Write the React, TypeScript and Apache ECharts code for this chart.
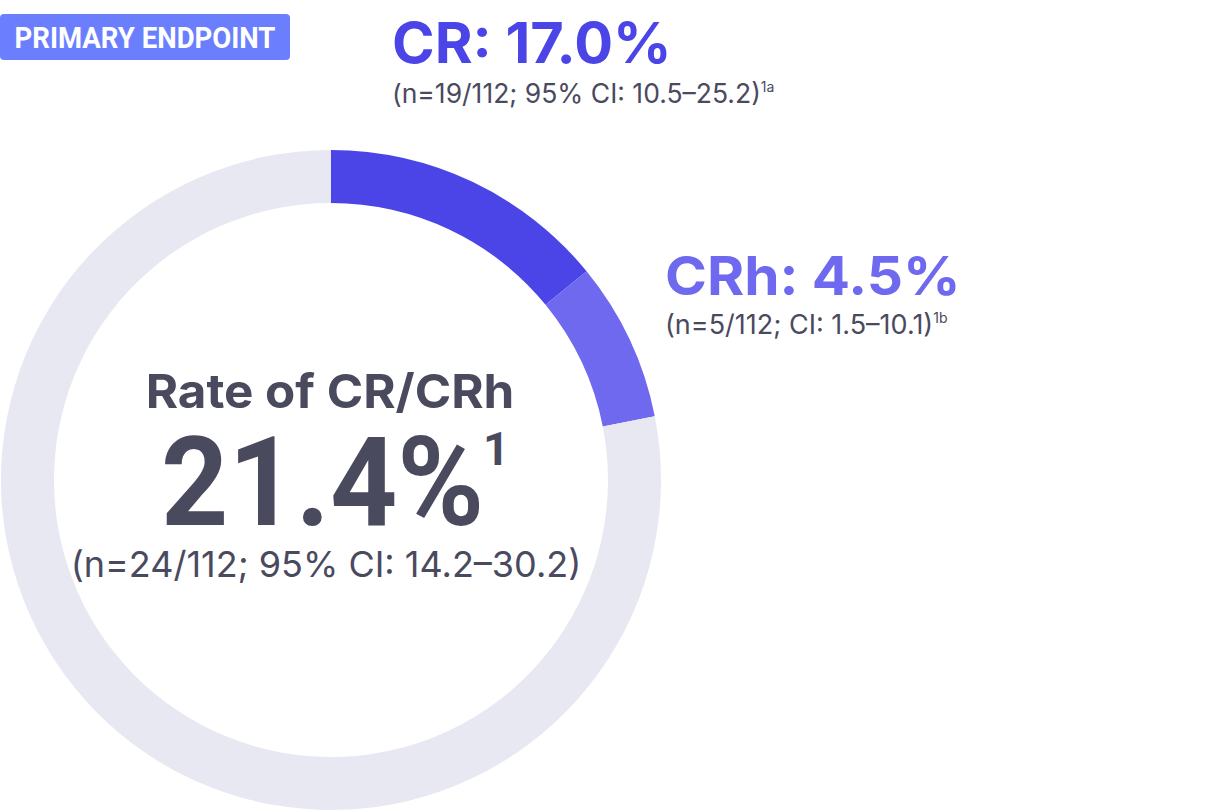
import React, { useEffect, useRef } from "react";
import * as echarts from "echarts";

// Arc shares as drawn in the reference (degrees / 360)
const arcNames = ["CR", "CRh", "Other"];
const arcValues = [14.1, 7.8, 78.1];
const arcColors = ["#4B45E8", "#6E69EE", "#E8E8F3"];

const badgeText = "PRIMARY ENDPOINT";
const crTitle = "CR: 17.0%";
const crDetail = "(n=19/112; 95% CI: 10.5\u201325.2)";
const crSup = "1a";
const crhTitle = "CRh: 4.5%";
const crhDetail = "(n=5/112; CI: 1.5\u201310.1)";
const crhSup = "1b";
const centerTitle = "Rate of CR/CRh";
const centerValue = "21.4%";
const centerSup = "1";
const centerDetail = "(n=24/112; 95% CI: 14.2\u201330.2)";

const DARK = "#4A4A5F";
const SANS = "Inter, 'Noto Sans', sans-serif";

export default function App() {
  const ref = useRef<HTMLDivElement>(null);
  useEffect(() => {
    document.body.style.margin = "0";
    const chart = echarts.init(ref.current!, null, { renderer: "svg" });
    const detail = (x: number, y: number, text: string, sup: string, size: number) => ({
      type: "text",
      x,
      y,
      style: {
        text: `{m|${text}}{s|${sup}}`,
        align: "left",
        verticalAlign: "middle",
        textAlign: "left",
        textVerticalAlign: "middle",
        rich: {
          m: { fontSize: size, fontFamily: SANS, fontWeight: 400, fill: DARK, color: DARK, lineHeight: 30, verticalAlign: "middle" },
          s: { fontSize: 14, fontFamily: SANS, fontWeight: 400, fill: DARK, color: DARK, lineHeight: 30, verticalAlign: "top", padding: [1, 0, 0, 0] },
        },
      },
    });
    chart.setOption({
      animation: false,
      series: [
        {
          type: "pie",
          center: [331, 480],
          radius: [277, 330],
          startAngle: 90,
          clockwise: true,
          silent: true,
          label: { show: false },
          labelLine: { show: false },
          emphasis: { disabled: true },
          data: arcNames.map((n, i) => ({ name: n, value: arcValues[i], itemStyle: { color: arcColors[i] } })),
        },
      ],
      graphic: [
        { type: "rect", shape: { x: 0, y: 14, width: 290, height: 46, r: 4 }, style: { fill: "#6B7FFE" } },
        {
          type: "text",
          x: 145,
          y: 38,
          scaleX: 0.95,
          style: { text: badgeText, font: "bold 29px Roboto, sans-serif", fill: "#FFFFFF", align: "center", verticalAlign: "middle", textAlign: "center", textVerticalAlign: "middle" },
        },
        {
          type: "text",
          x: 392,
          y: 43,
          scaleX: 1.03,
          style: { text: crTitle, font: `bold 56px ${SANS}`, fill: "#4B45E8", align: "left", verticalAlign: "middle", textAlign: "left", textVerticalAlign: "middle" },
        },
        detail(392, 93, crDetail, crSup, 26.5),
        {
          type: "text",
          x: 665,
          y: 275,
          scaleX: 1.05,
          style: { text: crhTitle, font: `bold 54px ${SANS}`, fill: "#6E69EE", align: "left", verticalAlign: "middle", textAlign: "left", textVerticalAlign: "middle" },
        },
        detail(665, 324, crhDetail, crhSup, 27),
        {
          type: "text",
          x: 330,
          y: 391,
          scaleX: 1.05,
          style: { text: centerTitle, font: `bold 47px ${SANS}`, fill: DARK, align: "center", verticalAlign: "middle", textAlign: "center", textVerticalAlign: "middle" },
        },
        {
          type: "text",
          x: 161,
          y: 482,
          scaleX: 0.94,
          style: { text: centerValue, font: "bold 125px Roboto, sans-serif", fill: DARK, align: "left", verticalAlign: "middle", textAlign: "left", textVerticalAlign: "middle" },
        },
        {
          type: "text",
          x: 483,
          y: 449,
          style: { text: centerSup, font: "bold 46px Roboto, sans-serif", fill: DARK, align: "left", verticalAlign: "middle", textAlign: "left", textVerticalAlign: "middle" },
        },
        {
          type: "text",
          x: 326,
          y: 564,
          style: { text: centerDetail, font: `400 36px ${SANS}`, fill: DARK, align: "center", verticalAlign: "middle", textAlign: "center", textVerticalAlign: "middle" },
        },
      ],
    });
    return () => chart.dispose();
  }, []);
  return <div ref={ref} style={{ position: "absolute", left: 0, top: 0, width: 1206, height: 811 }} />;
}
